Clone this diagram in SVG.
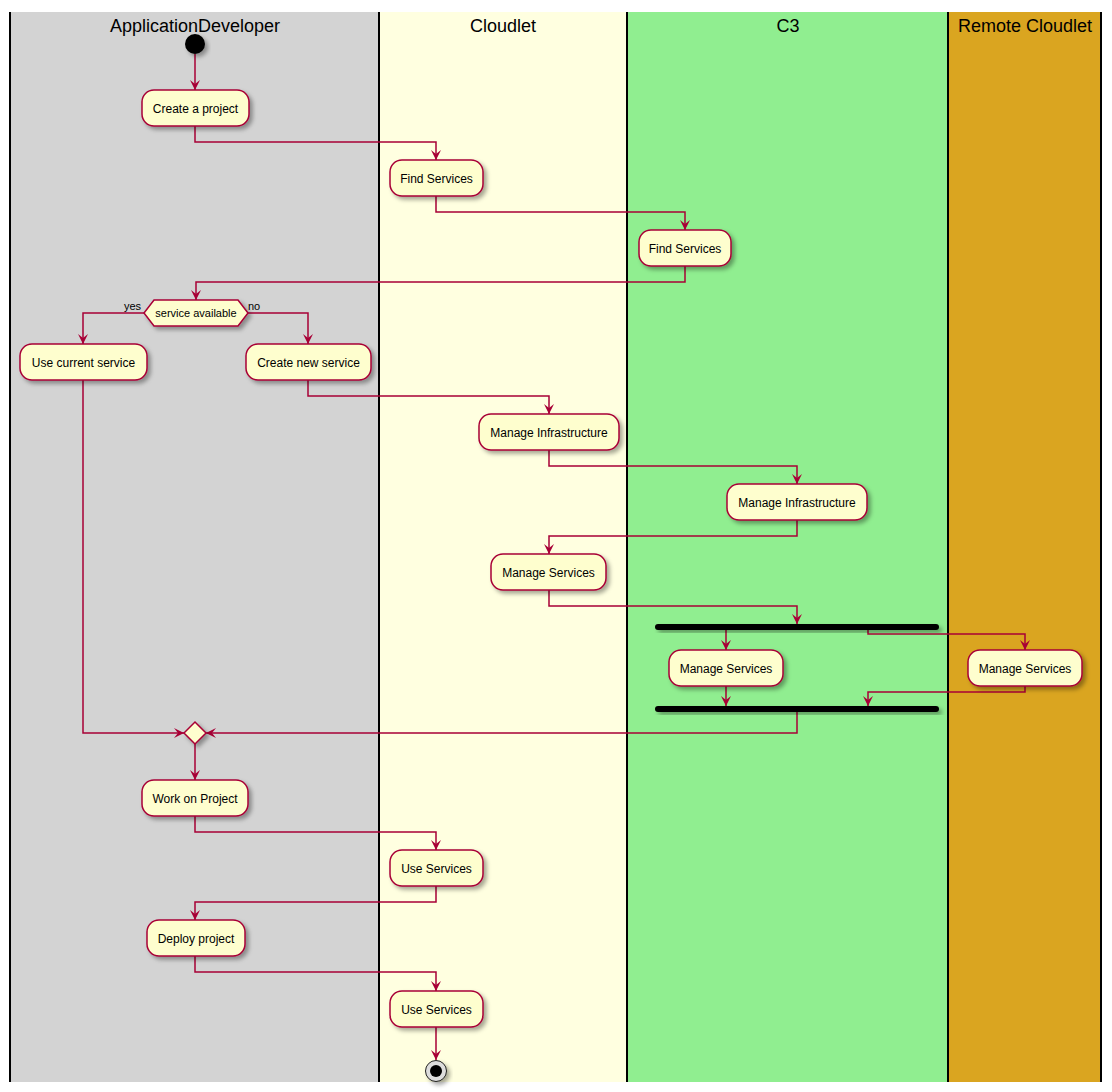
<svg xmlns="http://www.w3.org/2000/svg" width="1112" height="1092" viewBox="0 0 1112 1092">
<style>
.title{font-family:"Liberation Sans",Arial,sans-serif;font-size:18px;fill:#000;text-anchor:middle}
.lbl{font-family:"Liberation Sans",Arial,sans-serif;font-size:12px;fill:#000;text-anchor:middle}
.small{font-family:"Liberation Sans",Arial,sans-serif;font-size:11px;fill:#000}
.act{fill:#FEFECE;stroke:#A80036;stroke-width:1.5}
.bar{fill:#000}
.lane{stroke:none}
.sep{stroke:#000;stroke-width:2}
.conn{fill:none;stroke:#A80036;stroke-width:1.5}
</style>
<defs>
<filter id="sh" x="-20%" y="-20%" width="150%" height="160%">
<feDropShadow dx="3" dy="3" stdDeviation="2" flood-color="#000" flood-opacity="0.35"/>
</filter>
<marker id="ah" viewBox="0 0 10 10" refX="10" refY="5" markerWidth="10" markerHeight="10" markerUnits="userSpaceOnUse" orient="auto">
<path d="M0,0 L10,5 L0,10 L4,5 Z" fill="#A80036"/>
</marker>
</defs>
<rect width="1112" height="1092" fill="#fff"/>
<g id="lanes">
<rect class="lane" x="10" y="12" width="369" height="1070" fill="#D3D3D3"/>
<rect class="lane" x="379" y="12" width="248" height="1070" fill="#FFFFE0"/>
<rect class="lane" x="627" y="12" width="321" height="1070" fill="#90EE90"/>
<rect class="lane" x="948" y="12" width="153" height="1070" fill="#DAA520"/>
<line class="sep" x1="10" y1="12" x2="10" y2="1082"/>
<line class="sep" x1="379" y1="12" x2="379" y2="1082"/>
<line class="sep" x1="627" y1="12" x2="627" y2="1082"/>
<line class="sep" x1="948" y1="12" x2="948" y2="1082"/>
<line class="sep" x1="1101" y1="12" x2="1101" y2="1082"/>
<text class="title" x="195" y="32">ApplicationDeveloper</text>
<text class="title" x="503" y="32">Cloudlet</text>
<text class="title" x="788" y="32">C3</text>
<text class="title" x="1025" y="32">Remote Cloudlet</text>
</g>
<g id="connectors">
<path class="conn" d="M195,54 V90" marker-end="url(#ah)"/>
<path class="conn" d="M195,126 V142 H436 V160" marker-end="url(#ah)"/>
<path class="conn" d="M436,196 V212 H685 V230" marker-end="url(#ah)"/>
<path class="conn" d="M685,266 V282 H196 V300" marker-end="url(#ah)"/>
<path class="conn" d="M144,313 H83 V344" marker-end="url(#ah)"/>
<path class="conn" d="M248,313 H308 V344" marker-end="url(#ah)"/>
<path class="conn" d="M308,380 V396 H549 V414" marker-end="url(#ah)"/>
<path class="conn" d="M549,450 V466 H797 V484" marker-end="url(#ah)"/>
<path class="conn" d="M797,520 V536 H549 V554" marker-end="url(#ah)"/>
<path class="conn" d="M549,590 V606 H797 V624" marker-end="url(#ah)"/>
<path class="conn" d="M726,630 V650" marker-end="url(#ah)"/>
<path class="conn" d="M868,630 V634 H1025 V650" marker-end="url(#ah)"/>
<path class="conn" d="M726,686 V706" marker-end="url(#ah)"/>
<path class="conn" d="M1025,686 V692 H868 V706" marker-end="url(#ah)"/>
<path class="conn" d="M797,712 V733 H206" marker-end="url(#ah)"/>
<path class="conn" d="M83,380 V733 H184" marker-end="url(#ah)"/>
<path class="conn" d="M195,744 V780" marker-end="url(#ah)"/>
<path class="conn" d="M195,816 V832 H436 V850" marker-end="url(#ah)"/>
<path class="conn" d="M436,886 V902 H195 V920" marker-end="url(#ah)"/>
<path class="conn" d="M195,956 V972 H436 V991" marker-end="url(#ah)"/>
<path class="conn" d="M436,1027 V1060" marker-end="url(#ah)"/>
<text class="small" x="124" y="310">yes</text>
<text class="small" x="248" y="310">no</text>
</g>
<g id="start"><circle cx="195" cy="44" r="10" fill="#000" filter="url(#sh)"/></g>
<g id="create-project"><rect class="act" x="142" y="90" width="107" height="36" rx="12" filter="url(#sh)"/><text class="lbl" x="195.5" y="113">Create a project</text></g>
<g id="find-services-cloudlet"><rect class="act" x="390" y="160" width="93" height="36" rx="12" filter="url(#sh)"/><text class="lbl" x="436.5" y="183">Find Services</text></g>
<g id="find-services-c3"><rect class="act" x="639" y="230" width="92" height="36" rx="12" filter="url(#sh)"/><text class="lbl" x="685" y="253">Find Services</text></g>
<g id="decision"><polygon class="act" points="144,313 154,300 238,300 248,313 238,326 154,326" filter="url(#sh)"/><text class="small" x="196" y="317" text-anchor="middle">service available</text></g>
<g id="use-current"><rect class="act" x="20" y="344" width="127" height="36" rx="12" filter="url(#sh)"/><text class="lbl" x="83.5" y="367">Use current service</text></g>
<g id="create-new"><rect class="act" x="246" y="344" width="125" height="36" rx="12" filter="url(#sh)"/><text class="lbl" x="308.5" y="367">Create new service</text></g>
<g id="manage-infra-cloudlet"><rect class="act" x="479" y="414" width="140" height="36" rx="12" filter="url(#sh)"/><text class="lbl" x="549" y="437">Manage Infrastructure</text></g>
<g id="manage-infra-c3"><rect class="act" x="727" y="484" width="140" height="36" rx="12" filter="url(#sh)"/><text class="lbl" x="797" y="507">Manage Infrastructure</text></g>
<g id="manage-services-cloudlet"><rect class="act" x="491" y="554" width="115" height="36" rx="12" filter="url(#sh)"/><text class="lbl" x="548.5" y="577">Manage Services</text></g>
<g id="fork"><rect class="bar" x="655" y="624" width="284" height="6" rx="3" filter="url(#sh)"/></g>
<g id="manage-services-c3"><rect class="act" x="669" y="650" width="114" height="36" rx="12" filter="url(#sh)"/><text class="lbl" x="726" y="673">Manage Services</text></g>
<g id="manage-services-remote"><rect class="act" x="968" y="650" width="114" height="36" rx="12" filter="url(#sh)"/><text class="lbl" x="1025" y="673">Manage Services</text></g>
<g id="join"><rect class="bar" x="655" y="706" width="284" height="6" rx="3" filter="url(#sh)"/></g>
<g id="merge"><polygon class="act" points="184,733 195,722 206,733 195,744" filter="url(#sh)"/></g>
<g id="work-on-project"><rect class="act" x="142" y="780" width="106" height="36" rx="12" filter="url(#sh)"/><text class="lbl" x="195" y="803">Work on Project</text></g>
<g id="use-services-1"><rect class="act" x="390" y="850" width="93" height="36" rx="12" filter="url(#sh)"/><text class="lbl" x="436.5" y="873">Use Services</text></g>
<g id="deploy-project"><rect class="act" x="147" y="920" width="98" height="36" rx="12" filter="url(#sh)"/><text class="lbl" x="196" y="943">Deploy project</text></g>
<g id="use-services-2"><rect class="act" x="390" y="991" width="93" height="36" rx="12" filter="url(#sh)"/><text class="lbl" x="436.5" y="1014">Use Services</text></g>
<g id="end"><circle cx="436" cy="1071" r="10.5" fill="#ddd" stroke="#222" stroke-width="1" filter="url(#sh)"/><circle cx="436" cy="1071" r="6" fill="#000"/></g>
</svg>
